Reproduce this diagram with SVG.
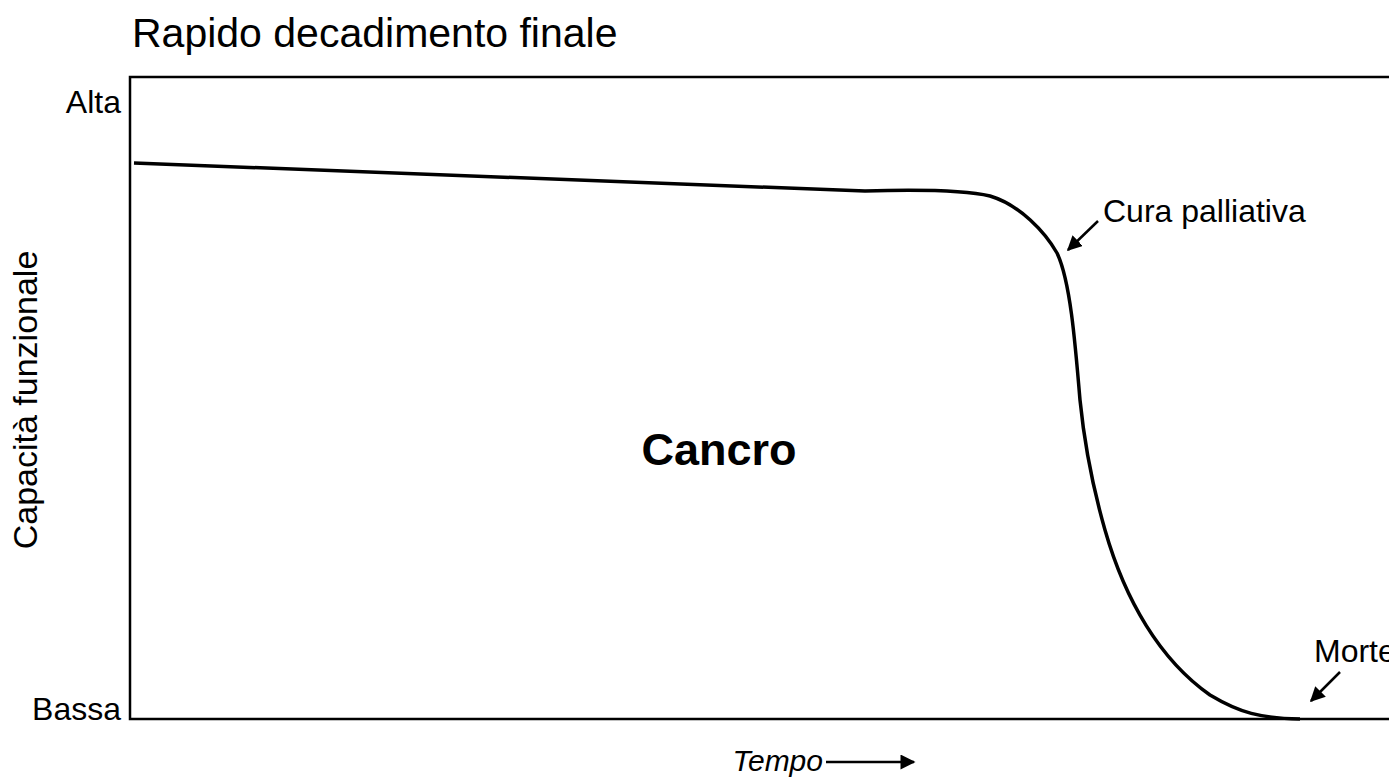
<svg xmlns="http://www.w3.org/2000/svg" width="1389" height="777" viewBox="0 0 1389 777">
<style>
text{font-family:"Liberation Sans",Arial,sans-serif;fill:#000}
.lbl{font-size:32px}
.arr{stroke:#000;stroke-width:2.5;fill:none}
</style>
<defs>
<marker id="ah" viewBox="0 0 10 10" refX="9" refY="5" markerWidth="6" markerHeight="6" orient="auto"><path d="M0,0 L10,5 L0,10 z" fill="#000"/></marker>
<marker id="ah2" viewBox="0 0 10 10" refX="9" refY="5" markerWidth="7" markerHeight="6" orient="auto"><path d="M0,0 L10,5 L0,10 z" fill="#000"/></marker>
</defs>
<rect width="1389" height="777" fill="#fff"/>
<g id="title"><text x="132" y="47" font-size="41">Rapido decadimento finale</text></g>
<g id="frame"><path d="M1392,77 H130 V719 H1392" fill="none" stroke="#000" stroke-width="2.5"/></g>
<g id="axis-labels">
<text class="lbl" x="121" y="113" text-anchor="end">Alta</text>
<text class="lbl" x="121" y="720" text-anchor="end">Bassa</text>
<text transform="translate(37,400) rotate(-90)" font-size="34" text-anchor="middle">Capacità funzionale</text>
<text x="823" y="771" font-size="30" text-anchor="end" font-style="italic">Tempo</text>
</g>
<g id="curve"><path d="M134,163 L865,191 C900,190 960,189 990,196 C1020,205 1045,232 1057,253 C1070,280 1075,340 1080,400 C1085,450 1095,495 1105,530 C1125,600 1160,660 1210,695 C1240,713 1260,718 1300,719" fill="none" stroke="#000" stroke-width="3.5" stroke-linejoin="round"/></g>
<g id="cancro"><text x="719" y="465" font-size="45" font-weight="bold" text-anchor="middle">Cancro</text></g>
<g id="cura"><text class="lbl" x="1103" y="222">Cura palliativa</text></g>
<g id="morte"><text class="lbl" x="1314" y="662">Morte</text></g>
<g id="connectors">
<line class="arr" x1="1098" y1="221" x2="1068" y2="250" marker-end="url(#ah)"/>
<line class="arr" x1="1340" y1="672" x2="1311" y2="701" marker-end="url(#ah)"/>
<line class="arr" x1="826" y1="762" x2="914" y2="762" marker-end="url(#ah2)"/>
</g>
</svg>
